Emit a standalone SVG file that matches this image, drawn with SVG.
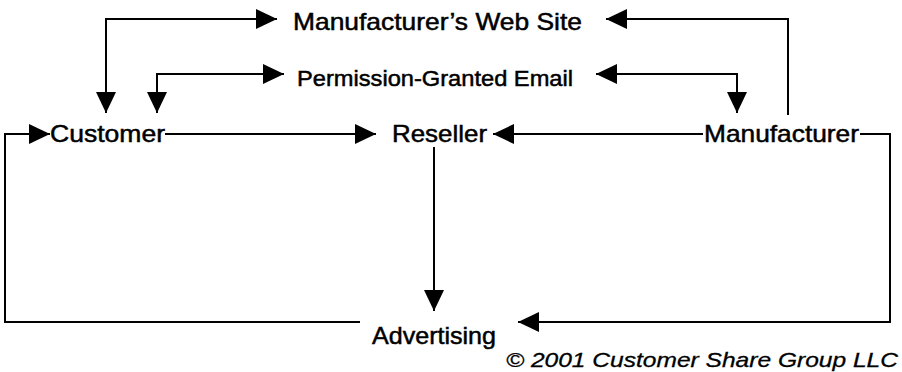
<svg xmlns="http://www.w3.org/2000/svg" width="902" height="372" viewBox="0 0 902 372">
<style>
.lbl{font-family:"Liberation Sans",Arial,sans-serif;fill:#000;stroke:#000;stroke-width:0.5}
.big{font-size:24px}
.mid{font-size:22px}
.copy{font-size:21px;font-style:italic;stroke-width:0.3}
.conn{fill:none;stroke:#000;stroke-width:2}
</style>
<defs>
<marker id="ah" viewBox="0 0 21 20" refX="21" refY="10" markerWidth="21" markerHeight="20" markerUnits="userSpaceOnUse" orient="auto-start-reverse">
<path d="M0,0 L21,10 L0,20 z" fill="#000"/>
</marker>
</defs>
<rect width="902" height="372" fill="#fff"/>
<g id="connectors">
<path class="conn" d="M106,113 V19 H277" marker-start="url(#ah)" marker-end="url(#ah)"/>
<path class="conn" d="M157,113 V74 H284" marker-start="url(#ah)" marker-end="url(#ah)"/>
<path class="conn" d="M788,115 V19 H606" marker-end="url(#ah)"/>
<path class="conn" d="M596,74 H737 V113" marker-start="url(#ah)" marker-end="url(#ah)"/>
<path class="conn" d="M165,134 H376" marker-end="url(#ah)"/>
<path class="conn" d="M703,134 H493" marker-end="url(#ah)"/>
<path class="conn" d="M434,147 V311" marker-end="url(#ah)"/>
<path class="conn" d="M860,134 H890 V322 H518" marker-end="url(#ah)"/>
<path class="conn" d="M360,322 H5 V134 H50" marker-end="url(#ah)"/>
</g>
<g id="web-site"><text class="lbl big" x="293" y="30" textLength="289" lengthAdjust="spacingAndGlyphs">Manufacturer’s Web Site</text></g>
<g id="email"><text class="lbl mid" x="297" y="86" textLength="276" lengthAdjust="spacingAndGlyphs">Permission-Granted Email</text></g>
<g id="customer"><text class="lbl big" x="50" y="142" textLength="115" lengthAdjust="spacingAndGlyphs">Customer</text></g>
<g id="reseller"><text class="lbl big" x="392" y="142" textLength="95" lengthAdjust="spacingAndGlyphs">Reseller</text></g>
<g id="manufacturer"><text class="lbl big" x="704" y="142" textLength="155" lengthAdjust="spacingAndGlyphs">Manufacturer</text></g>
<g id="advertising"><text class="lbl big" x="372" y="344" textLength="124" lengthAdjust="spacingAndGlyphs">Advertising</text></g>
<g id="copyright"><text class="lbl copy" x="506" y="367" textLength="392" lengthAdjust="spacingAndGlyphs">© 2001 Customer Share Group LLC</text></g>
</svg>
